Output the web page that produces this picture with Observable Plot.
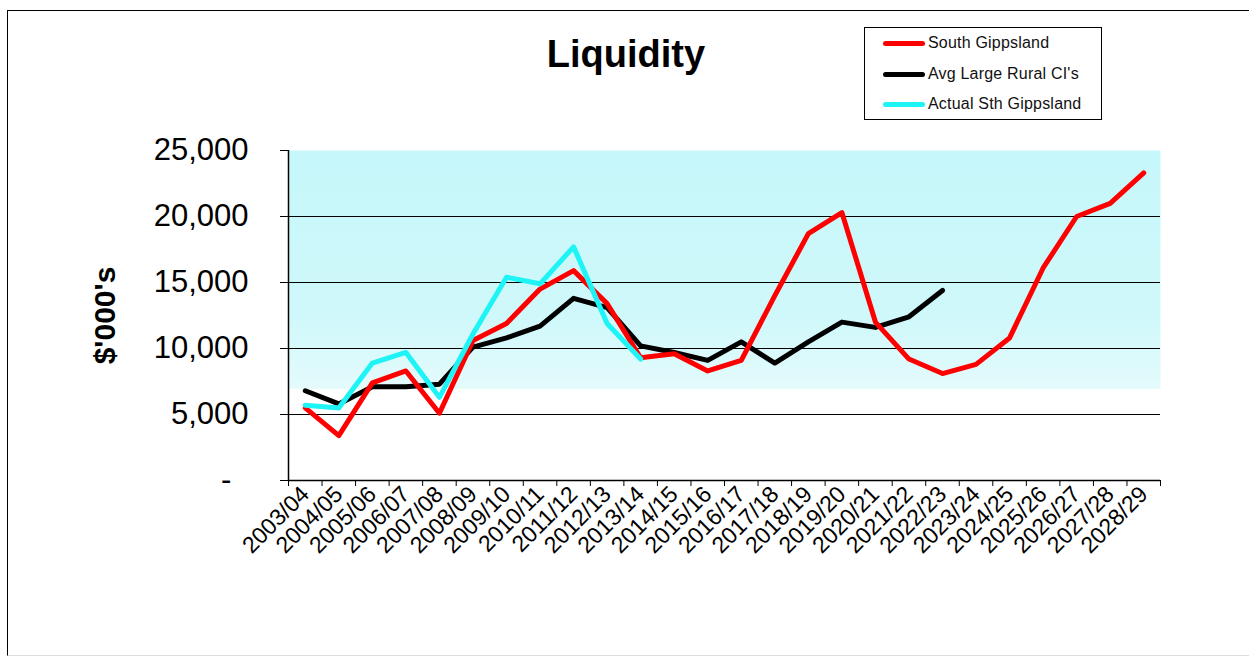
<!DOCTYPE html>
<html>
<head>
<meta charset="utf-8">
<script src="https://cdn.jsdelivr.net/npm/d3@7"></script>
<script src="https://cdn.jsdelivr.net/npm/@observablehq/plot@0.6"></script>
<style>
  body { margin: 0; background: #fff; font-family: "Liberation Sans", Arial, sans-serif; }
  #wrap { position: relative; width: 1249px; height: 657px; overflow: hidden; }
  #border { position: absolute; left: 7px; top: 10px; width: 1260px; height: 644px;
            border-left: 1.5px solid #000; border-top: 1.5px solid #000; border-bottom: 1px solid #ddd; }
  #title { position: absolute; left: 0; width: 1252px; top: 33px; text-align: center;
           font-weight: bold; font-size: 38px; color: #000; }
  #legend { position: absolute; left: 864px; top: 27px; width: 236px; height: 91px;
            border: 1.5px solid #000; background: #fff; }
  .row { position: absolute; left: 18px; height: 20px; display: flex; align-items: center;
         font-size: 16px; color: #111; letter-spacing: 0.2px; }
  .sw { display: inline-block; width: 42px; height: 5px; border-radius: 3px; margin-right: 3px; }
  #chart { position: absolute; left: 0; top: 0; }
</style>
</head>
<body>
<div id="wrap">
  <div id="border"></div>
  <div id="chart"></div>
  <div id="title"></div>
  <div id="legend"></div>
</div>
<script>
const titleText = "Liquidity";
const yLabel = "$'000's";
const categories = ["2003/04","2004/05","2005/06","2006/07","2007/08","2008/09","2009/10","2010/11","2011/12","2012/13","2013/14","2014/15","2015/16","2016/17","2017/18","2018/19","2019/20","2020/21","2021/22","2022/23","2023/24","2024/25","2025/26","2026/27","2027/28","2028/29"];
const seriesNames = ["South Gippsland", "Avg Large Rural CI's", "Actual Sth Gippsland"];
const seriesColors = ["#ff0000", "#000000", "#1ef4f6"];
const southGippsland = [5500, 3400, 7400, 8300, 5100, 10600, 11900, 14500, 15900, 13400, 9300, 9600, 8300, 9100, 14000, 18700, 20300, 12000, 9200, 8100, 8800, 10800, 16100, 20000, 21000, 23300];
const avgLargeRural = [6800, 5800, 7100, 7100, 7300, 10100, 10800, 11700, 13800, 13100, 10200, 9700, 9100, 10500, 8900, 10500, 12000, 11600, 12400, 14400];
const actualSthGippsland = [5700, 5500, 8900, 9700, 6300, 11100, 15400, 14900, 17700, 11900, 9200];
const yTicks = [0, 5000, 10000, 15000, 20000, 25000];
const gridValues = [5000, 10000, 15000, 20000];

const toRows = (vals, name) => vals.map((v, i) => ({x: i + 0.5, y: v, series: name}));
const rowsRed = toRows(southGippsland, seriesNames[0]);
const rowsBlack = toRows(avgLargeRural, seriesNames[1]);
const rowsCyan = toRows(actualSthGippsland, seriesNames[2]);

const n = categories.length;
const boundaryTicks = d3.range(n + 1);
const centerTicks = d3.range(n).map(i => i + 0.5);

const plot = Plot.plot({
  width: 1249,
  height: 657,
  marginLeft: 288,
  marginRight: 89,
  marginTop: 150,
  marginBottom: 177,
  style: {fontFamily: "'Liberation Sans', Arial, sans-serif", color: "#000", background: "transparent"},
  x: {domain: [0, n], axis: null},
  y: {domain: [0, 25000], axis: null},
  marks: [
    Plot.frame({fill: "url(#liqbg)", stroke: "none"}),
    Plot.ruleY(gridValues, {stroke: "#000", strokeWidth: 1}),
    Plot.ruleY([0], {stroke: "#000", strokeWidth: 1.5}),
    Plot.ruleX([0], {stroke: "#000", strokeWidth: 1.5}),
    Plot.axisY({ticks: yTicks, tickSize: 8, tickPadding: 32, fontSize: 31, label: null,
      tickFormat: d => d === 0 ? "-\u2007" : d3.format(",")(d)}),
    Plot.axisX({ticks: boundaryTicks, tickSize: 6, tickFormat: () => "", label: null}),
    Plot.axisX({ticks: centerTicks, tickSize: 0, tickPadding: 10, tickRotate: -45, fontSize: 23, label: null,
      tickFormat: d => categories[Math.floor(d)]}),
    Plot.text([yLabel], {frameAnchor: "left", dx: -183, rotate: -90, textAnchor: "middle", fontSize: 30, fontWeight: "bold"}),
    Plot.line(rowsBlack, {x: "x", y: "y", stroke: seriesColors[1], strokeWidth: 5, strokeLinejoin: "round", strokeLinecap: "round"}),
    Plot.line(rowsRed, {x: "x", y: "y", stroke: seriesColors[0], strokeWidth: 5, strokeLinejoin: "round", strokeLinecap: "round"}),
    Plot.line(rowsCyan, {x: "x", y: "y", stroke: seriesColors[2], strokeWidth: 5, strokeLinejoin: "round", strokeLinecap: "round"})
  ]
});

// gradient definition for the plot-area fill
const svg = d3.select(plot);
const defs = svg.insert("defs", ":first-child");
const grad = defs.append("linearGradient").attr("id", "liqbg").attr("x1", 0).attr("y1", 0).attr("x2", 0).attr("y2", 1);
[[0, "#c6f7fa"], [0.5, "#cff8fa"], [0.72, "#e4fbfc"], [0.725, "#ffffff"], [1, "#ffffff"]]
  .forEach(([o, c]) => grad.append("stop").attr("offset", o).attr("stop-color", c));

document.getElementById("chart").appendChild(plot);
document.getElementById("title").textContent = titleText;

const legend = document.getElementById("legend");
const rowTops = [5, 36, 66];
seriesNames.forEach((name, i) => {
  const row = document.createElement("div");
  row.className = "row";
  row.style.top = rowTops[i] + "px";
  const sw = document.createElement("span");
  sw.className = "sw";
  sw.style.background = seriesColors[i];
  const t = document.createElement("span");
  t.textContent = name;
  row.appendChild(sw);
  row.appendChild(t);
  legend.appendChild(row);
});
</script>
</body>
</html>
